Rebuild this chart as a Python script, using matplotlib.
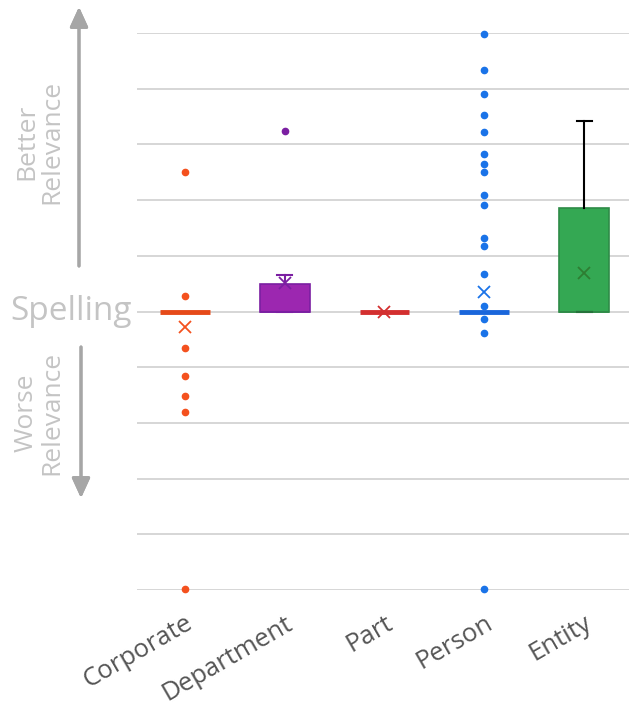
import matplotlib.pyplot as plt

# data (units = gridline steps, 0 = "Spelling" baseline)
categories = ["Corporate", "Department", "Part", "Person", "Entity"]
q1 = [0, 0, 0, 0, 0]
median = [0, 0, 0, 0, 0]
q3 = [0, 0.5, 0, 0, 1.85]
whisker_low = [0, 0, 0, 0, 0]
whisker_high = [0, 0.66, 0, 0, 3.42]
means = [-0.27, 0.52, 0, 0.35, 0.69]
outliers = [
    [2.51, 0.27, -0.65, -1.16, -1.52, -1.81, -4.99],
    [3.24],
    [],
    [4.99, 4.33, 3.90, 3.52, 3.22, 2.82, 2.65, 2.50, 2.10, 1.91,
     1.32, 1.17, 0.68, 0.09, -0.14, -0.39, -4.99],
    [],
]

fill_colors = ["#E64A19", "#9C27B0", "#D32F2F", "#1A66DB", "#34A853"]
edge_colors = ["#E64A19", "#7B1FA2", "#D32F2F", "#1A66DB", "#2E8B47"]
point_colors = ["#F4511E", "#7B1FA2", "#D32F2F", "#1A73E8", "#2E7D32"]
whisker_colors = ["#E64A19", "#7B1FA2", "#D32F2F", "#1A66DB", "#000000"]

fig = plt.figure(figsize=(6.29, 7.10), dpi=100)
ax = fig.add_axes([137 / 629, 1 - 590 / 710, 1 - 137 / 629, (590 - 33) / 710])

for i, name in enumerate(categories):
    stat = dict(label=name, q1=q1[i], med=median[i], q3=q3[i],
                whislo=whisker_low[i], whishi=whisker_high[i],
                mean=means[i], fliers=outliers[i])
    flat = q1[i] == q3[i]
    ax.bxp([stat], positions=[i + 1], widths=0.5, patch_artist=True,
           showmeans=True, showcaps=not flat, capwidths=0.15,
           boxprops=dict(facecolor=fill_colors[i], edgecolor=edge_colors[i],
                         linewidth=0 if flat else 1.2),
           medianprops=dict(color=edge_colors[i], linewidth=3.5 if flat else 1.2,
                            solid_capstyle="butt"),
           whiskerprops=dict(color=whisker_colors[i], linewidth=1.5),
           capprops=dict(color=whisker_colors[i], linewidth=1.5),
           meanprops=dict(marker="x", markeredgecolor=point_colors[i],
                          markersize=9, markeredgewidth=1.3),
           flierprops=dict(marker="o", markerfacecolor=point_colors[i],
                           markeredgecolor=point_colors[i], markersize=4.5),
           zorder=3)

for coll in ax.get_children():
    if hasattr(coll, "set_clip_on"):
        coll.set_clip_on(False)

ax.set_xlim(0.52, 5.45)
ax.set_ylim(-5, 5)
ax.set_yticks(range(-5, 6))
ax.set_yticklabels([])
ax.tick_params(axis="y", length=0)
ax.tick_params(axis="x", length=0, pad=15)
ax.grid(axis="y", color="#D0D0D0", linewidth=1.2, zorder=0)
ax.set_axisbelow(True)
for s in ax.spines.values():
    s.set_visible(False)

ax.set_xticks(range(1, 6))
ax.set_xticklabels(categories, rotation=30, ha="right", va="top",
                   rotation_mode="anchor", fontsize=18.5, color="#555555",
                   family="Open Sans")

# left-side annotation
gray = "#A6A6A6"
fig.text(10 / 629, 1 - 311 / 710, "Spelling", fontsize=24, color="#C4C4C4",
         family="Open Sans", ha="left", va="center")
fig.text(39 / 629, 1 - 142 / 710, "Better\nRelevance", fontsize=19,
         color="#C4C4C4", family="Open Sans", rotation=90,
         ha="center", va="center", linespacing=1.0)
fig.text(39 / 629, 1 - 413 / 710, "Worse\nRelevance", fontsize=19,
         color="#C4C4C4", family="Open Sans", rotation=90,
         ha="center", va="center", linespacing=1.0)
arrow = dict(arrowstyle="-|>,head_length=1.2,head_width=0.55", color=gray,
             linewidth=2.2, shrinkA=0, shrinkB=0)
fig.add_artist(plt.annotate("", xy=(79 / 629, 1 - 7 / 710),
                            xytext=(79 / 629, 1 - 266 / 710),
                            xycoords="figure fraction", arrowprops=arrow))
fig.add_artist(plt.annotate("", xy=(81 / 629, 1 - 498 / 710),
                            xytext=(81 / 629, 1 - 347 / 710),
                            xycoords="figure fraction", arrowprops=arrow))

fig.savefig("out.png", dpi=100)
